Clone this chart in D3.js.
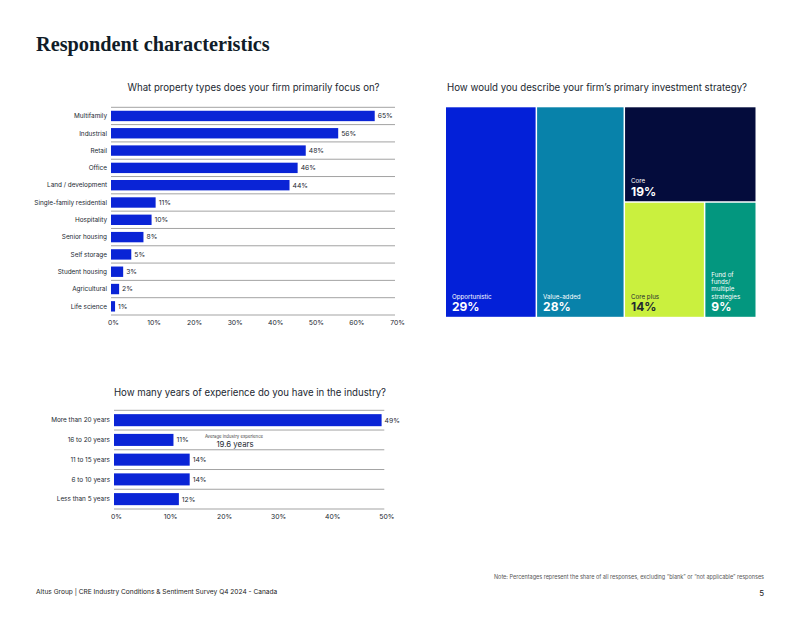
<!DOCTYPE html>
<html>
<head>
<meta charset="utf-8">
<script src="https://cdn.jsdelivr.net/npm/d3@7"></script>
<style>
  body { margin: 0; background: #fff; }
  text { font-family: Inter, "Liberation Sans", sans-serif; }
</style>
</head>
<body>
<div id="page"></div>
<script>
// chart data
const propertyTypes = ["Multifamily", "Industrial", "Retail", "Office", "Land / development",
    "Single-family residential", "Hospitality", "Senior housing", "Self storage",
    "Student housing", "Agricultural", "Life science"];
const propertyValues = [65, 56, 48, 46, 44, 11, 10, 8, 5, 3, 2, 1];
const propertyTicks = [0, 10, 20, 30, 40, 50, 60, 70];

const strategies = ["Opportunistic", "Value-added", "Core", "Core plus", "Fund of funds/ multiple strategies"];
const strategyValues = [29, 28, 19, 14, 9];
const strategyColors = ["#0320d8", "#0882aa", "#040c3c", "#caf03e", "#03977f"];

const experience = ["More than 20 years", "16 to 20 years", "11 to 15 years", "6 to 10 years", "Less than 5 years"];
const experienceValues = [49.5, 11, 14, 14, 12];
const experienceLabels = ["49%", "11%", "14%", "14%", "12%"];
const experienceTicks = [0, 10, 20, 30, 40, 50];

const barColor = "#0a24d6";
const gridColor = "#a3a3a3";
const inkColor = "#222831";

const W = 800, H = 618;
const svg = d3.select("#page").append("svg")
    .attr("width", W)
    .attr("height", H);

svg.append("rect").attr("width", W).attr("height", H).attr("fill", "#fff");

// page title
svg.append("text")
    .attr("x", 36)
    .attr("y", 51)
    .style("font-family", "'Liberation Serif', 'DejaVu Serif', serif")
    .attr("font-weight", 700)
    .attr("font-size", 20.3)
    .attr("fill", "#101c28")
    .text("Respondent characteristics");

// horizontal bar chart helper
function barChart(opts) {
    const g = svg.append("g");
    const x = d3.scaleLinear().domain(opts.domain).range(opts.xRange);
    const y = d3.scaleBand().domain(opts.cats).range(opts.yRange)
        .paddingInner(opts.pad).paddingOuter(opts.pad / 2);
    const step = y.step();
    const gap = step * opts.pad / 2;

    g.append("text")
        .attr("x", opts.titleX)
        .attr("y", opts.titleY)
        .attr("text-anchor", "middle")
        .attr("font-size", opts.titleSize)
        .attr("fill", inkColor)
        .text(opts.title);

    // row separators
    const lines = opts.cats.map(c => y(c) - gap).concat([opts.yRange[1]]);
    g.selectAll(".grid").data(lines).enter().append("line")
        .attr("x1", opts.xRange[0])
        .attr("x2", opts.xRange[1])
        .attr("y1", d => d)
        .attr("y2", d => d)
        .attr("stroke", gridColor)
        .attr("stroke-width", 1);

    g.selectAll(".bar").data(opts.values).enter().append("rect")
        .attr("x", x(0))
        .attr("y", (d, i) => y(opts.cats[i]))
        .attr("width", d => x(d) - x(0))
        .attr("height", y.bandwidth())
        .attr("fill", barColor);

    g.selectAll(".val").data(opts.values).enter().append("text")
        .attr("x", d => x(d) + 3)
        .attr("y", (d, i) => y(opts.cats[i]) + y.bandwidth() / 2)
        .attr("dy", "0.35em")
        .attr("font-size", 6.8)
        .attr("fill", inkColor)
        .text((d, i) => opts.labels ? opts.labels[i] : d + "%");

    g.selectAll(".cat").data(opts.cats).enter().append("text")
        .attr("x", opts.xRange[0] - 4)
        .attr("y", d => y(d) + y.bandwidth() / 2)
        .attr("dy", "0.35em")
        .attr("text-anchor", "end")
        .attr("font-size", 6.4)
        .attr("fill", inkColor)
        .text(d => d);

    const axis = d3.axisBottom(x)
        .tickValues(opts.ticks)
        .tickSize(0)
        .tickPadding(opts.tickPad)
        .tickFormat(d => d + "%");
    const ax = g.append("g")
        .attr("transform", `translate(2,${opts.yRange[1]})`)
        .call(axis);
    ax.select(".domain").remove();
    ax.selectAll("text")
        .attr("font-size", 6.8)
        .attr("fill", inkColor)
        .style("font-family", "Inter, 'Liberation Sans', sans-serif");
    return {g, x, y};
}

barChart({
    cats: propertyTypes, values: propertyValues, ticks: propertyTicks,
    domain: [0, 70], xRange: [111, 395], yRange: [107.3, 315], pad: 0.4, tickPad: 5,
    title: "What property types does your firm primarily focus on?",
    titleX: 253.5, titleY: 90.5, titleSize: 9.65
});

const exp = barChart({
    cats: experience, values: experienceValues, labels: experienceLabels, ticks: experienceTicks,
    domain: [0, 50], xRange: [114, 384.3], yRange: [410.3, 509], pad: 0.39, tickPad: 5,
    title: "How many years of experience do you have in the industry?",
    titleX: 250, titleY: 396, titleSize: 9.65
});

// average experience note
exp.g.append("text")
    .attr("x", 234)
    .attr("y", 437.5)
    .attr("text-anchor", "middle")
    .attr("font-size", 4.3)
    .attr("fill", "#444")
    .text("Average industry experience");
exp.g.append("text")
    .attr("x", 235)
    .attr("y", 447)
    .attr("text-anchor", "middle")
    .attr("font-size", 7.8)
    .attr("fill", inkColor)
    .text("19.6 years");

// treemap
const tm = svg.append("g").attr("transform", "translate(446,107.3)");
svg.append("text")
    .attr("x", 447)
    .attr("y", 90.5)
    .attr("font-size", 9.7)
    .attr("fill", inkColor)
    .text("How would you describe your firm\u2019s primary investment strategy?");

const leaf = i => ({name: strategies[i], value: strategyValues[i], color: strategyColors[i]});
const tree = {children: [leaf(0), leaf(1), {children: [leaf(2), {children: [leaf(3), leaf(4)]}]}]};
const root = d3.hierarchy(tree).sum(d => d.value || 0);
d3.treemap()
    .size([309.5, 209.5])
    .tile(d3.treemapSliceDice)
    .paddingInner(1.5)(root);

const cells = tm.selectAll(".cell").data(root.leaves()).enter().append("g");
cells.append("rect")
    .attr("x", d => d.x0)
    .attr("y", d => d.y0)
    .attr("width", d => d.x1 - d.x0)
    .attr("height", d => d.y1 - d.y0)
    .attr("fill", d => d.data.color);

cells.each(function(d) {
    const cell = d3.select(this);
    const txt = d.data.name === "Core plus" ? inkColor : "#fff";
    const lines = d.data.name.startsWith("Fund") ? ["Fund of", "funds/", "multiple", "strategies"] : [d.data.name];
    lines.forEach((l, k) => {
        cell.append("text")
            .attr("x", d.x0 + 6)
            .attr("y", d.y1 - 18 - (lines.length - 1 - k) * 7.3)
            .attr("font-size", 6.2)
            .attr("fill", txt)
            .text(l);
    });
    cell.append("text")
        .attr("x", d.x0 + 6)
        .attr("y", d.y1 - 5.5)
        .attr("font-size", 12)
        .attr("font-weight", 700)
        .attr("fill", txt)
        .text(d.value + "%");
});

// footer
svg.append("text")
    .attr("x", 764)
    .attr("y", 579)
    .attr("text-anchor", "end")
    .attr("font-size", 5.5)
    .attr("fill", "#555")
    .text("Note: Percentages represent the share of all responses, excluding \u201cblank\u201d or \u201cnot applicable\u201d responses");
svg.append("text")
    .attr("x", 36)
    .attr("y", 594)
    .attr("font-size", 6.6)
    .attr("fill", "#222")
    .text("Altus Group | CRE Industry Conditions & Sentiment Survey Q4 2024 - Canada");
svg.append("text")
    .attr("x", 764)
    .attr("y", 596)
    .attr("text-anchor", "end")
    .attr("font-size", 8)
    .attr("fill", "#222")
    .text("5");
</script>
</body>
</html>
